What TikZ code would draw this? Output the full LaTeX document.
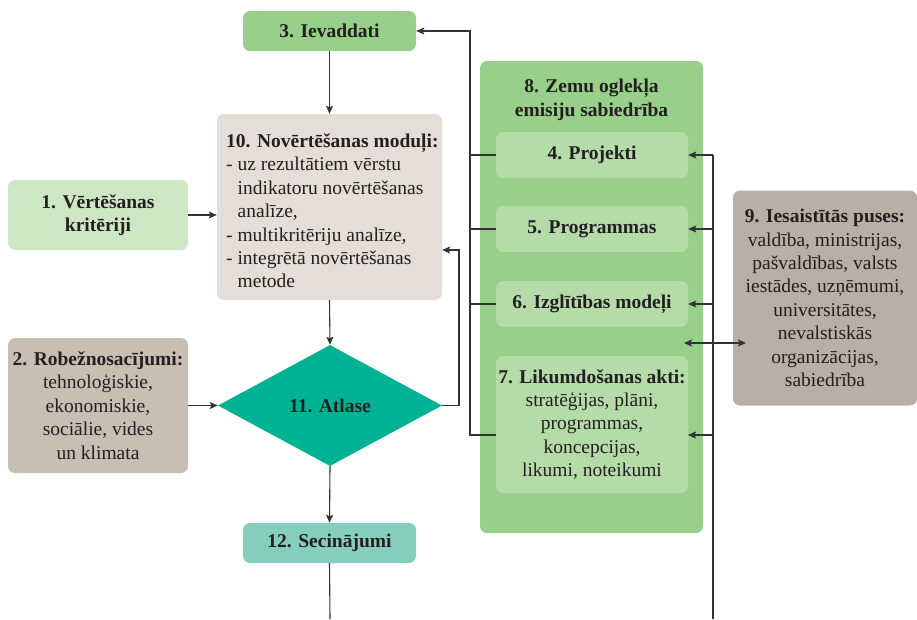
\documentclass[tikz,border=0pt]{standalone}
\usepackage{fontspec}
\setmainfont{Liberation Serif}
\usetikzlibrary{shapes.geometric,arrows.meta}
\definecolor{txt}{HTML}{231F20}
\definecolor{linec}{HTML}{333333}
\definecolor{cgreen}{HTML}{98CF8A}
\definecolor{clight}{HTML}{B5DBA8}
\definecolor{cone}{HTML}{CDE6C4}
\definecolor{cten}{HTML}{E3DED8}
\definecolor{ctwo}{HTML}{C7BFB4}
\definecolor{cnine}{HTML}{B8B0A6}
\definecolor{cdia}{HTML}{00B294}
\definecolor{ctwelve}{HTML}{86CEBC}
\newcommand\myfs{\fontsize{19.5}{23.4}\selectfont}
\begin{document}
\begin{tikzpicture}[x=1pt,y=-1pt,
  box/.style={rectangle, rounded corners=7pt, inner sep=0pt, align=center, text=txt, font=\myfs},
  arr/.style={draw=linec, line width=1.1pt, -{Stealth[length=8pt,width=7pt,inset=1.5pt]}},
  arrtwo/.style={draw=linec, line width=1.1pt, {Stealth[length=8pt,width=7pt,inset=1.5pt]}-{Stealth[length=8pt,width=7pt,inset=1.5pt]}},
  ln/.style={draw=linec, line width=1.1pt}]
\useasboundingbox (0,0) rectangle (917,619);

% big group box
\node[box, fill=cgreen, minimum width=223pt, minimum height=472pt] (n8) at (591.5,297) {};
\node[align=center, font=\myfs\bfseries, text=txt, inner sep=0pt] (t8) at (591.5,100) {8. Zemu oglekļa\\emisiju sabiedrība};

\node[box, fill=clight, minimum width=192pt, minimum height=46pt, font=\myfs\bfseries] (n4) at (592,155) {4. Projekti};
\node[box, fill=clight, minimum width=192pt, minimum height=46pt, font=\myfs\bfseries] (n5) at (592,229) {5. Programmas};
\node[box, fill=clight, minimum width=192pt, minimum height=46pt, font=\myfs\bfseries] (n6) at (592,304) {6. Izglītības modeļi};
\node[box, fill=clight, minimum width=192pt, minimum height=137pt] (n7) at (592,424.5) {\textbf{7. Likumdošanas akti:}\\stratēģijas, plāni,\\programmas,\\koncepcijas,\\likumi, noteikumi};

\node[box, fill=cgreen, minimum width=173pt, minimum height=40pt, font=\myfs\bfseries] (n3) at (329.5,31) {3. Ievaddati};
\node[box, fill=cten, minimum width=225pt, minimum height=186pt] (n10) at (329.5,207) {};
\node[anchor=west, align=left, font=\myfs, text=txt, inner sep=0pt] (t10) at (226,211) {\textbf{10. Novērtēšanas moduļi:}\\- uz rezultātiem vērstu\\\hspace*{11.5pt}indikatoru novērtēšanas\\\hspace*{11.5pt}analīze,\\- multikritēriju analīze,\\- integrētā novērtēšanas\\\hspace*{11.5pt}metode};

\node[box, fill=cone, minimum width=180pt, minimum height=70pt, font=\myfs\bfseries] (n1) at (98,215) {1. Vērtēšanas\\kritēriji};
\node[box, fill=ctwo, minimum width=180pt, minimum height=135pt] (n2) at (98,405.5) {\textbf{2. Robežnosacījumi:}\\tehnoloģiskie,\\ekonomiskie,\\sociālie, vides\\un klimata};

\node[diamond, aspect=1.85, fill=cdia, minimum width=224pt, minimum height=121pt, inner sep=0pt, font=\myfs\bfseries, text=txt] (n11) at (330,405.5) {11. Atlase};
\node[box, fill=ctwelve, minimum width=173pt, minimum height=40pt, font=\myfs\bfseries] (n12) at (329.5,543) {12. Secinājumi};

\node[box, fill=cnine, minimum width=184pt, minimum height=215pt] (n9) at (825,298) {\textbf{9. Iesaistītās puses:}\\valdība, ministrijas,\\pašvaldības, valsts\\iestādes, uzņēmumi,\\universitātes,\\nevalstiskās\\organizācijas,\\sabiedrība};

% coordinates
\coordinate (bot) at (330,619);
\coordinate (loop) at (459,250);
\coordinate (bl) at (470,435);
\coordinate (br) at (713,619);
\coordinate (brtop) at (713,155);
\coordinate (r7) at (688,435);
\coordinate (dl) at (684,343);
\coordinate (dr) at (746,343);

% main flow
\draw[arr] (n3.south) -- (n10.north);
\draw[arr] (n1.east) -- (n1.east -| n10.west);
\draw[arr] (n10.south) -- (n11.north);
\draw[arr] (n2.east) -- (n11.west);
\draw[arr] (n11.south) -- (n12.north);
\draw[ln] (n12.south) -- (bot);
\draw[arr] (n11.east) -| (loop) -- (loop -| n10.east);

% left bus
\draw[arr] (bl -| n7.west) -- (bl) |- (n3.east);
\draw[ln] (n4.west) -- (n4.west -| bl);
\draw[ln] (n5.west) -- (n5.west -| bl);
\draw[ln] (n6.west) -- (n6.west -| bl);

% right bus
\draw[ln] (br) -- (brtop);
\draw[arr] (brtop) -- (n4.east);
\draw[arr] (n5.east -| br) -- (n5.east);
\draw[arr] (n6.east -| br) -- (n6.east);
\draw[arr] (r7 -| br) -- (r7);
\draw[arrtwo] (dl) -- (dr);
\end{tikzpicture}
\end{document}
